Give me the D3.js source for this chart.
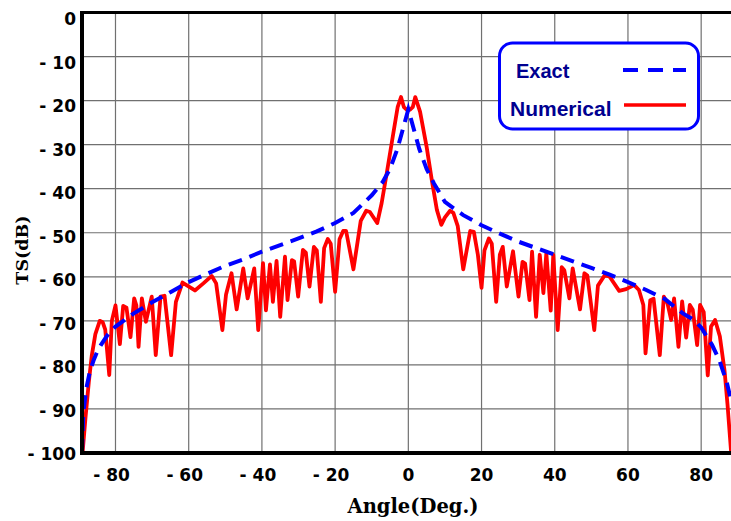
<!DOCTYPE html>
<html>
<head>
<meta charset="utf-8">
<script src="https://cdn.jsdelivr.net/npm/d3@7"></script>
<style>
  body { margin: 0; background: #fff; }
  svg { display: block; }
</style>
</head>
<body>
<div id="tsChart"></div>
<script>
//********************************************************************//
//
//                    DATA
//
//*******************************************************************//

  // x tick values and labels
  var xTicks = [-80, -60, -40, -20, 0, 20, 40, 60, 80];
  var xTickLabels = ["- 80", "- 60", "- 40", "- 20", "0", "20", "40", "60", "80"];

  // y tick values and labels
  var yTicks = [0, -10, -20, -30, -40, -50, -60, -70, -80, -90, -100];
  var yTickLabels = ["0", "- 10", "- 20", "- 30", "- 40", "- 50", "- 60", "- 70", "- 80", "- 90", "- 100"];

  // exact solution
  var exactAngle = [-89.15, -88.8, -88, -87, -86, -85, -84, -82, -80, -75,
                    -70, -65, -60, -55, -50, -45, -40, -35, -30, -25,
                    -20, -15, -10, -7, -5, -3, -1.5, 0, 1.5, 3,
                    5, 7, 10, 15, 20, 25, 30, 35, 40, 45,
                    50, 55, 60, 65, 70, 75, 78, 80, 83, 85,
                    87, 88.15];
  var exactTS = [-100, -91, -85.5, -81.5, -79, -77, -75.5, -73, -71.3, -68.3,
                 -65.8, -63.5, -61.2, -59.3, -57.5, -56, -54.3, -52.8, -51.3, -49.7,
                 -47.8, -45.5, -41.5, -38.5, -35.5, -31, -26.5, -22, -26.5, -31,
                 -35.5, -38.8, -43, -46, -48.3, -50.2, -52, -53.5, -55, -56.5,
                 -58, -59.5, -61.2, -63, -65, -68.3, -69.8, -71.5, -75.5, -79,
                 -84, -88];

  // numerical solution
  var numAngle = [-89, -88.2, -87.3, -86.5, -85.5, -84.3, -83.5, -82.8, -81.7, -81,
                  -80, -78.8, -77.9, -77, -75.9, -74.9, -74.3, -73.7, -72.8, -71.7,
                  -70.1, -69, -67.7, -66.6, -64.8, -63.5, -61.7, -58.3, -56, -53.7,
                  -52.5, -50.8, -49.8, -48.3, -46.9, -45.1, -43.9, -42.1, -41, -39.7,
                  -38.9, -37.8, -37, -36, -35, -33.7, -33, -31.8, -31.2, -30.1,
                  -28.8, -28, -27, -25.8, -25, -23.9, -23, -22, -21.2, -20,
                  -18.8, -17.8, -17, -15, -13, -11.5, -10.5, -8.5, -7.3, -5.9,
                  -4.1, -2.9, -2, -1.2, -0.4, 0.4, 1.2, 1.9, 3.2, 5,
                  6.4, 7.8, 9, 10, 11.4, 12.3, 13.5, 15, 16.9, 17.9,
                  19, 20, 20.8, 22, 22.8, 24, 25, 25.8, 26.9, 28.6,
                  30.1, 31.2, 31.9, 33.1, 33.8, 34.9, 35.9, 36.9, 37.7, 38.9,
                  39.6, 40.8, 41.9, 42.6, 44, 44.9, 46.9, 48.1, 48.9, 50.8,
                  51.8, 53.7, 55, 57.6, 59.5, 61.7, 63, 64.2, 64.8, 66.1,
                  67, 68.7, 69.8, 70.8, 71.8, 72.6, 73.8, 74.8, 75.9, 76.9,
                  77.7, 78.9, 79.7, 80.7, 81.8, 82.7, 83.8, 85.1, 86.4, 87.2,
                  88.2];
  var numTS = [-100, -92, -84, -78, -73, -70, -70.3, -72, -82.3, -70,
               -66.5, -75.3, -66.6, -67, -73.7, -64.9, -66.5, -75.9, -64.9, -70.2,
               -64.5, -77.8, -64.5, -64.3, -77.8, -65.7, -61.3, -63.1, -61.5, -59.8,
               -61.5, -72.1, -64, -59.2, -67.4, -58.1, -64.9, -58.1, -72.1, -56.9,
               -67.6, -57.2, -65.7, -56.4, -69.1, -55.4, -65.3, -56.2, -56.5, -64.5,
               -53.9, -54.5, -62.2, -53.2, -54, -65.7, -53.5, -51.4, -52.5, -63.4,
               -51.5, -49.6, -49.6, -58.3, -47.3, -45, -45.3, -47.8, -43.3, -36.5,
               -27.4, -21.4, -19.2, -21.5, -22.1, -22.1, -21.5, -19.2, -22.5, -30.5,
               -38, -44.8, -48.2, -46.5, -45, -45.5, -48.5, -58.3, -49.6, -49.8,
               -55, -62.5, -54, -51.3, -52.5, -65.7, -55, -53.2, -62.2, -54.2,
               -64.5, -56.6, -57, -65.3, -54.3, -69.1, -55, -63.7, -54.7, -67.7,
               -55, -72.1, -57.8, -58.5, -64.9, -58.1, -67.4, -59.2, -59.7, -72.1,
               -62, -59.6, -60, -63.2, -62.8, -61.9, -63, -66.4, -77.4, -65.3,
               -65, -77.8, -64.5, -66, -69.8, -64.9, -75.9, -65.6, -73.8, -66.4,
               -67.5, -75.5, -66.4, -68, -82.4, -71.3, -69.8, -73.5, -81.4, -89,
               -100];

  var seriesNames = ["Exact", "Numerical"];

//********************************************************************//
//
//                    CHART
//
//*******************************************************************//

var width = 731,
    height = 521,
    plotLeft = 82,
    plotRight = 731,
    plotTop = 12.5,
    plotBottom = 453;

var svg = d3.select("#tsChart")
  .append("svg")
    .attr("width", width)
    .attr("height", height);

var x = d3.scaleLinear()
  .domain([-89.15, 88.15])
  .range([plotLeft, plotRight]);

var y = d3.scaleLinear()
  .domain([-100, 0])
  .range([plotBottom, plotTop]);

// label rows sit a little off the grid lines in the original
var yLab = d3.scaleLinear()
  .domain([-100, 0])
  .range([454, 19]);

svg.append("defs")
   .append("clipPath")
   .attr("id", "plotClip")
   .append("rect")
     .attr("x", plotLeft)
     .attr("y", plotTop - 2)
     .attr("width", plotRight - plotLeft)
     .attr("height", plotBottom - plotTop + 2);

// grid
svg.append("g")
   .selectAll("line")
   .data(xTicks)
   .enter()
   .append("line")
     .attr("x1", function(d) { return x(d); })
     .attr("x2", function(d) { return x(d); })
     .attr("y1", plotTop)
     .attr("y2", plotBottom)
     .attr("stroke", "#707070")
     .attr("stroke-width", 1.2);

svg.append("g")
   .selectAll("line")
   .data(yTicks)
   .enter()
   .append("line")
     .attr("x1", plotLeft)
     .attr("x2", plotRight)
     .attr("y1", function(d) { return y(d); })
     .attr("y2", function(d) { return y(d); })
     .attr("stroke", "#707070")
     .attr("stroke-width", 1.2);

// curves
var exactData = exactAngle.map(function(a, i) { return {a: a, ts: exactTS[i]}; });
var numData = numAngle.map(function(a, i) { return {a: a, ts: numTS[i]}; });

var line = d3.line()
  .x(function(d) { return x(d.a); })
  .y(function(d) { return y(d.ts); });

var curves = svg.append("g").attr("clip-path", "url(#plotClip)");

curves.append("path")
   .datum(numData)
   .attr("d", line)
   .attr("fill", "none")
   .attr("stroke", "#ff0000")
   .attr("stroke-width", 3.8)
   .attr("stroke-linejoin", "round");

curves.append("path")
   .datum(exactData)
   .attr("d", line)
   .attr("fill", "none")
   .attr("stroke", "#0000ff")
   .attr("stroke-width", 4)
   .attr("stroke-dasharray", "14,8");

// frame: top, left and bottom heavy lines
svg.append("line")
   .attr("x1", plotLeft - 1).attr("x2", plotRight)
   .attr("y1", plotTop).attr("y2", plotTop)
   .attr("stroke", "#000").attr("stroke-width", 3);
svg.append("line")
   .attr("x1", plotLeft).attr("x2", plotLeft)
   .attr("y1", plotTop - 1.5).attr("y2", plotBottom + 2)
   .attr("stroke", "#000").attr("stroke-width", 4);
svg.append("line")
   .attr("x1", plotLeft - 2).attr("x2", plotRight)
   .attr("y1", plotBottom).attr("y2", plotBottom)
   .attr("stroke", "#000").attr("stroke-width", 4);

// tick labels
svg.append("g")
   .selectAll("text")
   .data(yTicks)
   .enter()
   .append("text")
     .attr("x", 76)
     .attr("y", function(d) { return yLab(d); })
     .attr("dy", "0.36em")
     .style("font-family", "'DejaVu Sans', sans-serif")
     .style("font-weight", "bold")
     .style("font-size", "17px")
     .style("text-anchor", "end")
     .text(function(d, i) { return yTickLabels[i]; });

svg.append("g")
   .selectAll("text")
   .data(xTicks)
   .enter()
   .append("text")
     .attr("x", function(d) { return x(d) + (d < 0 ? -4 : 0); })
     .attr("y", 480.5)
     .style("font-family", "'DejaVu Sans', sans-serif")
     .style("font-weight", "bold")
     .style("font-size", "17px")
     .style("text-anchor", "middle")
     .text(function(d, i) { return xTickLabels[i]; });

// axis titles
svg.append("text")
   .attr("x", 413)
   .attr("y", 513)
   .style("font-family", "'DejaVu Serif', serif")
   .style("font-weight", "bold")
   .style("font-size", "19.5px")
   .style("text-anchor", "middle")
   .text("Angle(Deg.)");

svg.append("text")
   .attr("transform", "translate(28,250) rotate(-90)")
   .style("font-family", "'DejaVu Serif', serif")
   .style("font-weight", "bold")
   .style("font-size", "17.5px")
   .style("text-anchor", "middle")
   .text("TS(dB)");

// legend
var legend = svg.append("g");

legend.append("rect")
   .attr("x", 499.5)
   .attr("y", 43)
   .attr("width", 199)
   .attr("height", 86)
   .attr("rx", 13)
   .attr("fill", "#fff")
   .attr("stroke", "#0000ff")
   .attr("stroke-width", 3);

legend.append("text")
   .attr("x", 516)
   .attr("y", 78)
   .style("font-family", "'Liberation Sans', Arial, sans-serif")
   .style("font-weight", "bold")
   .style("font-size", "20px")
   .style("fill", "#000090")
   .text(seriesNames[0]);

legend.append("text")
   .attr("x", 510)
   .attr("y", 115.5)
   .style("font-family", "'Liberation Sans', Arial, sans-serif")
   .style("font-weight", "bold")
   .style("font-size", "21px")
   .style("fill", "#000090")
   .text(seriesNames[1]);

legend.append("line")
   .attr("x1", 623).attr("x2", 686)
   .attr("y1", 70).attr("y2", 70)
   .attr("stroke", "#0000ff")
   .attr("stroke-width", 4)
   .attr("stroke-dasharray", "15,10");

legend.append("line")
   .attr("x1", 624).attr("x2", 686)
   .attr("y1", 105).attr("y2", 105)
   .attr("stroke", "#ff0000")
   .attr("stroke-width", 3.5);
</script>
</body>
</html>
